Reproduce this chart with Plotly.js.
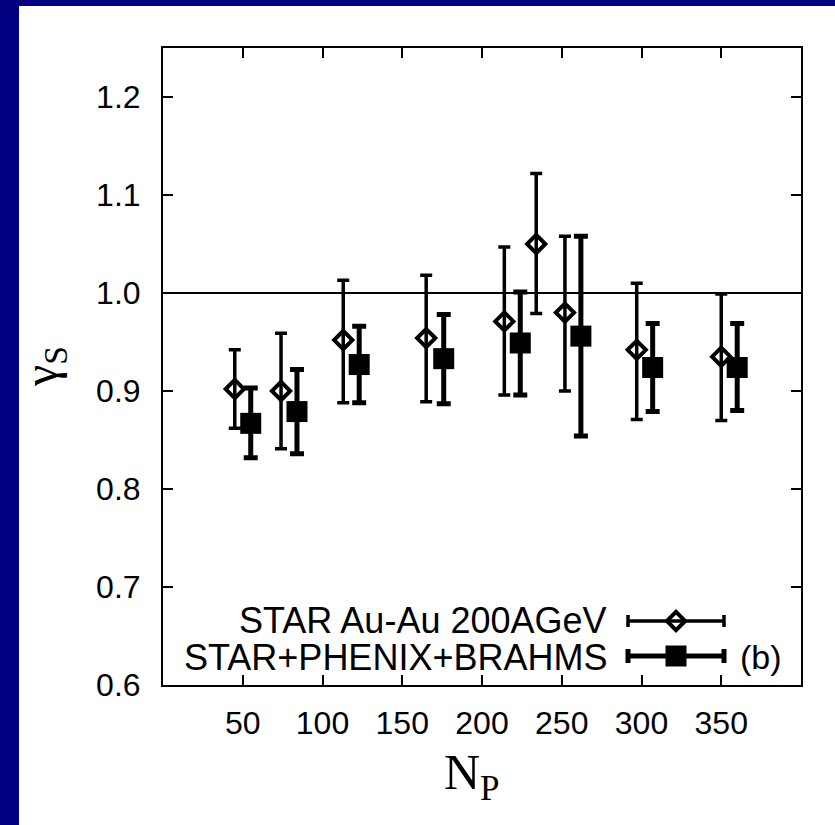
<!DOCTYPE html>
<html>
<head>
<meta charset="utf-8">
<script src="https://cdn.plot.ly/plotly-3.0.1.min.js"></script>
<style>
  html, body { margin: 0; padding: 0; background: #ffffff; overflow: hidden; }
  #chart { position: absolute; left: 0; top: 0; width: 835px; height: 825px; }
  .band { position: absolute; background: #000080; z-index: 10; }
</style>
</head>
<body>
<div class="band" style="left:0;top:0;width:19px;height:825px;"></div>
<div class="band" style="left:0;top:0;width:835px;height:6px;"></div>
<div id="chart"></div>
<script>
// STAR Au-Au 200 AGeV: strangeness saturation factor vs participants
const starNp    = [45, 74, 113, 165, 214, 234, 252, 297, 350];
const starGamma = [0.902, 0.900, 0.952, 0.954, 0.971, 1.050, 0.980, 0.942, 0.935];
const starHigh  = [0.942, 0.959, 1.013, 1.018, 1.047, 1.122, 1.058, 1.010, 0.999];
const starLow   = [0.862, 0.841, 0.888, 0.889, 0.896, 0.979, 0.900, 0.871, 0.870];

// STAR+PHENIX+BRAHMS combined fit
const combNp    = [55, 84, 123, 176, 224, 262, 307, 360];
const combGamma = [0.867, 0.879, 0.927, 0.933, 0.949, 0.956, 0.924, 0.924];
const combHigh  = [0.903, 0.922, 0.966, 0.978, 1.001, 1.058, 0.969, 0.969];
const combLow   = [0.832, 0.836, 0.888, 0.887, 0.896, 0.854, 0.879, 0.880];

const xTicks = [50, 100, 150, 200, 250, 300, 350];
const yTicks = [0.6, 0.7, 0.8, 0.9, 1.0, 1.1, 1.2];
const seriesNames = ['STAR Au-Au 200AGeV', 'STAR+PHENIX+BRAHMS'];
const panelTag = '(b)';

const W = 835, H = 825;
const M = { l: 163, r: 34, t: 48, b: 140 };
const PW = W - M.l - M.r, PH = H - M.t - M.b;
const px2x = p => (p - M.l) / PW;
const px2y = p => (H - M.b - p) / PH;

const sans = 'Liberation Sans, Arial, Helvetica, sans-serif';
const serif = 'Liberation Serif, Times New Roman, serif';

const up = (hi, v) => hi.map((h, i) => +(h - v[i]).toFixed(4));
const dn = (lo, v) => lo.map((l, i) => +(v[i] - l).toFixed(4));

const starMarker = { symbol: 'diamond-open', size: 14, color: '#000', line: { width: 4, color: '#000' } };
const combMarker = { symbol: 'square', size: 21, color: '#000', line: { width: 0 } };

const traces = [
  {
    x: starNp, y: starGamma, type: 'scatter', mode: 'markers', name: seriesNames[0],
    marker: starMarker,
    error_y: { type: 'data', symmetric: false, array: up(starHigh, starGamma),
               arrayminus: dn(starLow, starGamma), thickness: 3.5, width: 6, color: '#000' },
    showlegend: false, hoverinfo: 'skip'
  },
  {
    x: combNp, y: combGamma, type: 'scatter', mode: 'markers', name: seriesNames[1],
    marker: combMarker,
    error_y: { type: 'data', symmetric: false, array: up(combHigh, combGamma),
               arrayminus: dn(combLow, combGamma), thickness: 5, width: 7, color: '#000' },
    showlegend: false, hoverinfo: 'skip'
  },
  // key samples drawn on a hidden overlay frame
  {
    x: [px2x(676)], y: [px2y(621)], xaxis: 'x2', yaxis: 'y2', type: 'scatter', mode: 'markers',
    marker: starMarker,
    error_x: { type: 'data', array: [48 / PW], thickness: 3.5, width: 6, color: '#000' },
    showlegend: false, hoverinfo: 'skip'
  },
  {
    x: [px2x(676)], y: [px2y(656)], xaxis: 'x2', yaxis: 'y2', type: 'scatter', mode: 'markers',
    marker: combMarker,
    error_x: { type: 'data', array: [48 / PW], thickness: 5, width: 7, color: '#000' },
    showlegend: false, hoverinfo: 'skip'
  }
];

const axisCommon = {
  showline: true, linecolor: '#000', linewidth: 2, mirror: 'ticks',
  ticks: 'inside', ticklen: 10, tickwidth: 2, tickcolor: '#000',
  showgrid: false, zeroline: false,
  tickfont: { family: sans, size: 32, color: '#000' }
};

const layout = {
  width: W, height: H,
  margin: M,
  paper_bgcolor: '#fff', plot_bgcolor: '#fff',
  xaxis: Object.assign({}, axisCommon, {
    range: [0, 400], tickmode: 'array', tickvals: xTicks, ticktext: xTicks.map(String),
    ticklabelstandoff: 9
  }),
  yaxis: Object.assign({}, axisCommon, {
    range: [0.6, 1.25], tickmode: 'array', tickvals: yTicks, ticktext: yTicks.map(v => v.toFixed(1)),
    ticklabelstandoff: 14
  }),
  xaxis2: { overlaying: 'x', range: [0, 1], visible: false, fixedrange: true },
  yaxis2: { overlaying: 'y', range: [0, 1], visible: false, fixedrange: true },
  shapes: [
    { type: 'line', xref: 'paper', yref: 'y', x0: 0, x1: 1, y0: 1.0, y1: 1.0,
      line: { color: '#000', width: 2 } }
  ],
  annotations: [
    { text: seriesNames[0], xref: 'paper', yref: 'paper', x: px2x(609), y: px2y(620),
      xanchor: 'right', yanchor: 'middle', showarrow: false,
      font: { family: sans, size: 36, color: '#000' } },
    { text: seriesNames[1], xref: 'paper', yref: 'paper', x: px2x(609), y: px2y(657),
      xanchor: 'right', yanchor: 'middle', showarrow: false,
      font: { family: sans, size: 36, color: '#000' } },
    { text: panelTag, xref: 'paper', yref: 'paper', x: px2x(738), y: px2y(657),
      xanchor: 'left', yanchor: 'middle', showarrow: false,
      font: { family: sans, size: 34, color: '#000' } },
    { text: 'N<sub>P</sub>', xref: 'paper', yref: 'paper', x: px2x(472), y: px2y(776),
      xanchor: 'center', yanchor: 'middle', showarrow: false,
      font: { family: serif, size: 50, color: '#000' } },
    { text: 'γ<sub>S</sub>', xref: 'paper', yref: 'paper', x: px2x(44), y: px2y(367),
      xanchor: 'center', yanchor: 'middle', showarrow: false, textangle: -90,
      font: { family: serif, size: 48, color: '#000' } }
  ]
};

Plotly.newPlot('chart', traces, layout, { staticPlot: true, displayModeBar: false });
</script>
</body>
</html>
